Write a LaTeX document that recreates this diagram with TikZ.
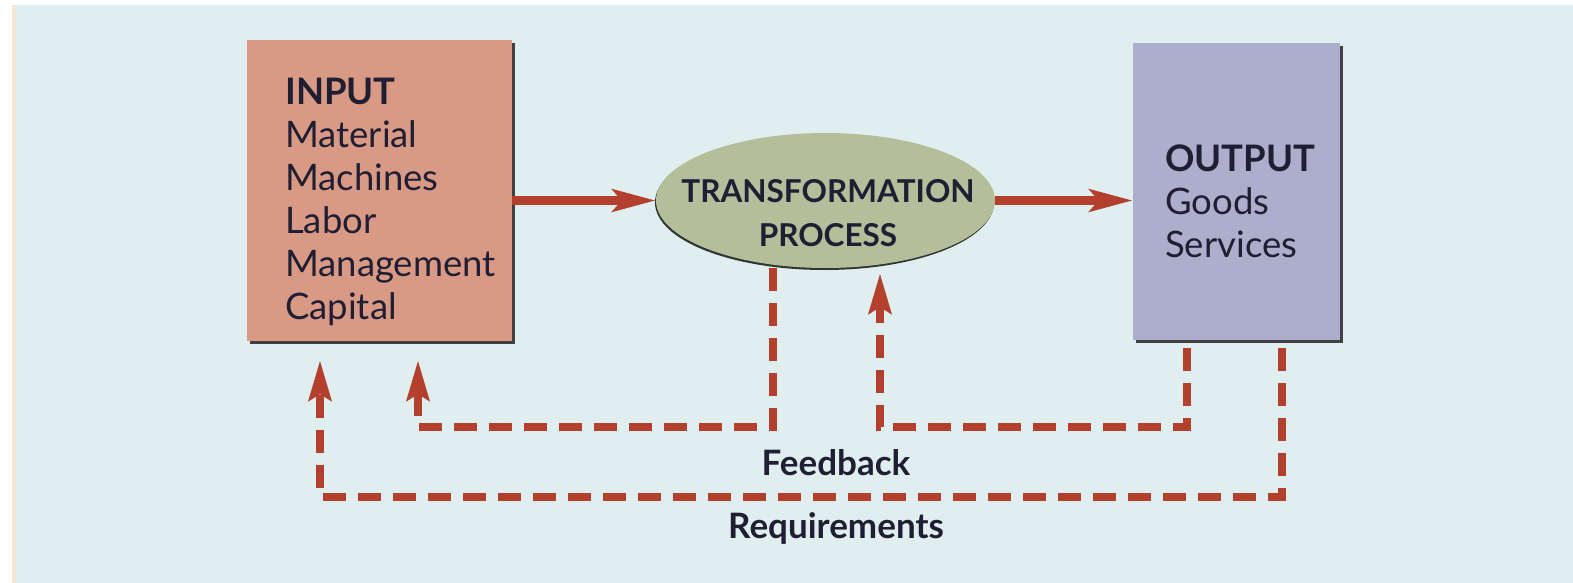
\documentclass[tikz,border=0pt]{standalone}
\usepackage{fontspec}
\setmainfont{Lato}
\usetikzlibrary{arrows.meta,shadows,shapes.geometric}
\definecolor{bgblue}{HTML}{E0EEEF}
\definecolor{cream}{HTML}{F5E8D3}
\definecolor{infill}{HTML}{D99A85}
\definecolor{tpfill}{HTML}{B5BE9B}
\definecolor{outfill}{HTML}{ADADCC}
\definecolor{arrowred}{HTML}{B3402D}
\definecolor{ink}{HTML}{1F1E33}
\tikzset{
  boxshadow/.style={drop shadow={shadow xshift=3pt,shadow yshift=-3pt,fill=black!75,opacity=1}},
  inbox/.style={rectangle,fill=infill,draw=none,boxshadow,inner sep=0pt},
  outbox/.style={rectangle,fill=outfill,draw=none,boxshadow,inner sep=0pt},
  tpell/.style={ellipse,fill=tpfill,draw=none,inner sep=0pt,
     drop shadow={shadow xshift=-1pt,shadow yshift=-2pt,fill=black!80,opacity=1}},
  boxtext/.style={text=ink,align=left,inner sep=0pt,anchor=north west,
     font=\fontsize{36.5}{43}\selectfont},
  tptext/.style={text=ink,align=center,inner sep=0pt,
     font=\fontsize{31.5}{44}\selectfont\bfseries},
  labeltext/.style={text=ink,inner sep=0pt,font=\fontsize{35}{40}\selectfont\bfseries},
  solidarrow/.style={draw=arrowred,line width=8.5pt,
     -{Stealth[length=43pt,width=22pt,inset=9pt]}},
  dashline/.style={draw=arrowred,line width=8.5pt,dash pattern=on 23pt off 12pt},
  dasharrow/.style={dashline,-{Stealth[length=40pt,width=22pt,inset=6pt]}}
}
\begin{document}
\begin{tikzpicture}[x=1pt,y=-1pt]
\useasboundingbox (0,0) rectangle (1573,583);
\fill[white] (0,0) rectangle (1573,583);
\fill[cream] (12,5) rectangle (16,583);
\fill[bgblue] (16,5) rectangle (1573,583);

% boxes
\node[inbox,minimum width=265pt,minimum height=301pt] (in) at (379.5,190.5) {};
\node[boxtext] (intext) at (285,78) {\textbf{INPUT}\\Material\\Machines\\Labor\\Management\\Capital};
\node[tpell,minimum width=339pt,minimum height=135pt] (tp) at (825.5,200.5) {};
\node[tptext] (tptxt) at (828,213) {TRANSFORMATION\\PROCESS};
\node[outbox,minimum width=207pt,minimum height=297pt] (out) at (1236.5,191.5) {};
\node[boxtext] (outtext) at (1165,145) {\textbf{OUTPUT}\\Goods\\Services};

% solid arrows
\draw[solidarrow] (in.east |- tp.west) -- (tp.west);
\draw[solidarrow] (tp.east) -- (out.west |- tp.east);

% coordinates for dashed connectors
\coordinate (x773) at (773,0);
\coordinate (x1187) at (1187,0);
\coordinate (x1282) at (1282,0);
\coordinate (fbA) at (773,427);
\coordinate (fbB) at (418,427);
\coordinate (fbTip) at (418,360);
\coordinate (fbC) at (1187,427);
\coordinate (fbD) at (880,427);
\coordinate (tpTip) at (880,273);
\coordinate (rqA) at (1282,497);
\coordinate (rqB) at (320,497);
\coordinate (rqTip) at (320,360);

% feedback from transformation to input
\draw[dasharrow] (tp.south -| x773) -- (fbA) -- (fbB) -- (fbTip);
% feedback from output to transformation
\draw[dasharrow,shorten <=8pt] (out.south -| x1187) -- (fbC) -- (fbD) -- (tpTip);
% requirements from output to input
\draw[dasharrow,shorten <=8pt] (out.south -| x1282) -- (rqA) -- (rqB) -- (rqTip);

\node[labeltext] (fbl) at (836,463) {Feedback};
\node[labeltext] (rql) at (836,528) {Requirements};
\end{tikzpicture}
\end{document}
